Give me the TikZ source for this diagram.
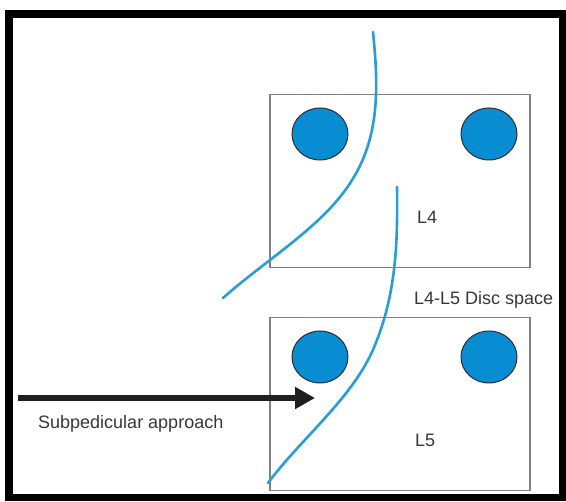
\documentclass[tikz,border=0pt]{standalone}
\usepackage{fontspec}
\setmainfont{Liberation Sans}
\usetikzlibrary{shapes.geometric,arrows.meta}

\definecolor{pedfill}{RGB}{8,140,210}
\definecolor{pedline}{RGB}{45,45,50}
\definecolor{cordblue}{RGB}{40,158,214}
\definecolor{bodyline}{RGB}{128,128,128}
\definecolor{labelgrey}{RGB}{55,55,55}

\tikzset{
  vbody/.style={draw=bodyline, line width=1.6pt, minimum width=260pt, minimum height=173pt, inner sep=0pt},
  pedicle/.style={ellipse, draw=pedline, line width=1pt, fill=pedfill, minimum width=56pt, minimum height=52pt, inner sep=0pt},
  root/.style={draw=cordblue, line width=2.6pt, line cap=round},
  lbl/.style={text=labelgrey, font=\fontsize{18}{20}\selectfont, inner sep=0pt},
  approach/.style={line width=6.5pt, -{Triangle[length=20pt,width=21pt]}, color=black!88}
}

\begin{document}
\begin{tikzpicture}[x=1pt, y=-1pt]
  \useasboundingbox (0,0) rectangle (566,502);
  \fill[white] (0,0) rectangle (566,502);
  % outer frame
  \draw[line width=7.5pt] (9,14) rectangle (562.5,497.5);

  % vertebral bodies
  \node[vbody] (L4body) at (400,181) {};
  \node[vbody] (L5body) at (400,404) {};

  % pedicles
  \node[pedicle] (L4left)  at (320,134) {};
  \node[pedicle] (L4right) at (489,134) {};
  \node[pedicle] (L5left)  at (320,357) {};
  \node[pedicle] (L5right) at (489,357) {};

  % nerve roots
  \coordinate (rootAtop) at (373,32);
  \coordinate (rootAmid) at (340,197);
  \coordinate (rootAend) at (223,298);
  \coordinate (rootBtop) at (397,187);
  \coordinate (rootBmid) at (372,352);
  \coordinate (rootBend) at (268,483);
  \draw[root] (rootAtop) .. controls (380,100) and (378,150) .. (rootAmid)
                         .. controls (310,234) and (260,265) .. (rootAend);
  \draw[root] (rootBtop) .. controls (398,250) and (395,300) .. (rootBmid)
                         .. controls (350,400) and (300,440) .. (rootBend);

  % labels
  \node[lbl, anchor=base west] (L4lbl) at (417,224) {L4};
  \node[lbl, anchor=base west] (L5lbl) at (415,447) {L5};
  \node[lbl, anchor=base west] (disc) at (414,305) {L4-L5 Disc space};
  \node[lbl, anchor=base west] (sublbl) at (38,429) {Subpedicular approach};

  % approach arrow
  \coordinate (arrowstart) at (18,398);
  \coordinate (arrowtip) at (315,398);
  \draw[approach] (arrowstart) -- (arrowtip);
\end{tikzpicture}
\end{document}
